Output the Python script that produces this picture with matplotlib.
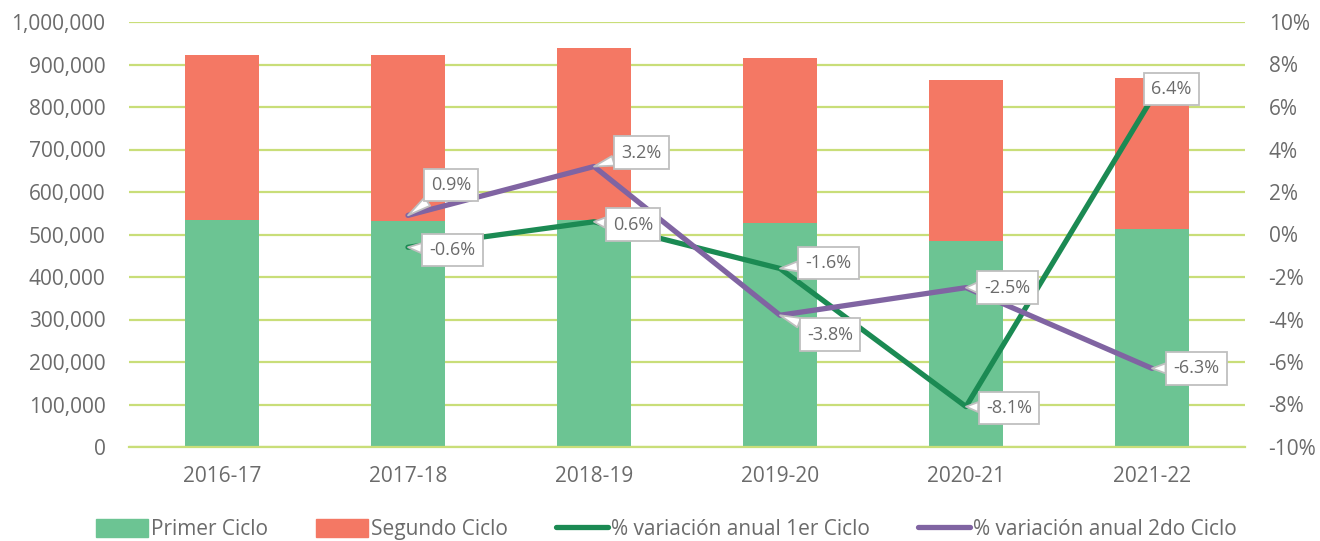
import numpy as np
import matplotlib
matplotlib.use("Agg")
import matplotlib.pyplot as plt
from matplotlib.patches import Patch
from matplotlib.lines import Line2D
from matplotlib.ticker import FuncFormatter, MultipleLocator

plt.rcParams['font.family'] = ['Open Sans', 'DejaVu Sans']

categories = ['2016-17', '2017-18', '2018-19', '2019-20', '2020-21', '2021-22']
primer = [534000, 531000, 534000, 526000, 484000, 514000]
segundo = [388000, 391000, 404000, 389000, 379000, 355000]
var1 = [None, -0.6, 0.6, -1.6, -8.1, 6.4]
var2 = [None, 0.9, 3.2, -3.8, -2.5, -6.3]

# label offsets (points) for callouts
off1 = [None, (32, -2), (28, -2), (35, 4), (31, -1), (14, 7)]
off2 = [None, (31, 22), (34, 10), (36, -14), (30, 0), (32, 0)]

c_primer = '#6cc493'
c_segundo = '#f47864'
c_l1 = '#1b8a53'
c_l2 = '#8064a2'
c_grid = '#c9de79'
c_text = '#6b6b6b'

fig = plt.figure(figsize=(13.2, 5.41), dpi=100)
ax = fig.add_axes([129/1320, 1-447/541, (1245-129)/1320, (447-22)/541])
x = np.arange(len(categories))
ax.bar(x, primer, width=0.4, color=c_primer, zorder=2)
ax.bar(x, segundo, width=0.4, bottom=primer, color=c_segundo, zorder=2)
ax.set_xlim(-0.5, len(categories)-0.5)
ax.set_ylim(0, 1000000)
ax.yaxis.set_major_locator(MultipleLocator(100000))
ax.yaxis.set_major_formatter(FuncFormatter(lambda v, p: f'{int(round(v)):,}'))
ax.set_xticks(x)
ax.set_xticklabels(categories)
ax.grid(axis='y', color=c_grid, lw=1.6, zorder=0)
ax.set_axisbelow(True)
for s in ['top', 'left', 'right']:
    ax.spines[s].set_visible(False)
ax.spines['bottom'].set_color(c_grid)
ax.spines['bottom'].set_linewidth(1.6)
ax.tick_params(axis='both', length=0, labelsize=15, colors=c_text)
ax.tick_params(axis='y', pad=17)
ax.tick_params(axis='x', pad=14)

ax2 = ax.twinx()
ax2.set_ylim(-10, 10)
ax2.yaxis.set_major_locator(MultipleLocator(2))
ax2.yaxis.set_major_formatter(FuncFormatter(lambda v, p: f'{v:.0f}%'))
for s in ['top', 'left', 'right', 'bottom']:
    ax2.spines[s].set_visible(False)
ax2.tick_params(axis='y', length=0, labelsize=15, colors=c_text, pad=17)

xs = x[1:]
ax2.plot(xs, var1[1:], color=c_l1, lw=3.8, solid_capstyle='round', solid_joinstyle='round', zorder=3)
ax2.plot(xs, var2[1:], color=c_l2, lw=3.8, solid_capstyle='round', solid_joinstyle='round', zorder=3)

def callout(xi, yv, off):
    ax2.annotate(f'{yv:.1f}%', xy=(xi, yv), xytext=off, textcoords='offset points',
                 ha='center', va='center', fontsize=13, color=c_text, zorder=5,
                 bbox=dict(boxstyle='square,pad=0.4', fc='white', ec='#bfbfbf', lw=1.3),
                 arrowprops=dict(arrowstyle='wedge,tail_width=0.55,shrink_factor=0.5',
                                 fc='white', ec='#bfbfbf', lw=1.3, shrinkA=0, shrinkB=0))

for i in range(1, len(categories)):
    callout(x[i], var1[i], off1[i])
    callout(x[i], var2[i], off2[i])

handles = [Patch(color=c_primer), Patch(color=c_segundo),
           Line2D([], [], color=c_l1, lw=3.8, solid_capstyle='round'),
           Line2D([], [], color=c_l2, lw=3.8, solid_capstyle='round')]
labels = ['Primer Ciclo', 'Segundo Ciclo', '% variación anual 1er Ciclo', '% variación anual 2do Ciclo']
fig.legend(handles, labels, loc='center', bbox_to_anchor=(0.505, 0.021), ncol=4, frameon=False,
           fontsize=15, labelcolor=c_text, handlelength=2.5, handleheight=0.9,
           handletextpad=0.15, columnspacing=2.3)

fig.savefig('out.png', dpi=100)
